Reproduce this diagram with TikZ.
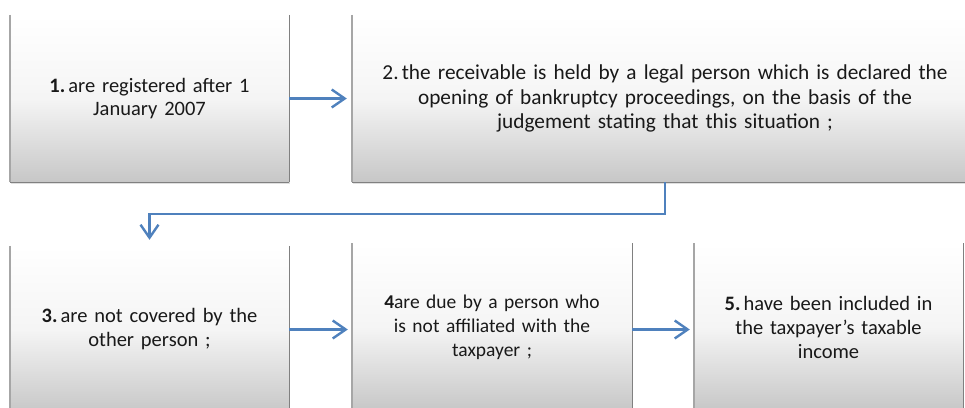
\documentclass[tikz,border=0pt]{standalone}
\usepackage{fontspec}
\setmainfont{Carlito}
\usetikzlibrary{arrows.meta,shadows}
\definecolor{arrowblue}{HTML}{4F81BD}
\tikzset{
  box/.style={rectangle, inner sep=0pt, align=center,
    top color=white, bottom color=black!22, middle color=black!4,
    text=black!90,
    drop shadow={opacity=0.25, shadow xshift=1pt, shadow yshift=-2pt}},
  boxedge/.style={draw=black!50, line width=1.4pt},
  flow/.style={draw=arrowblue, line width=2.4pt,
    -{Straight Barb[length=13pt,width=18pt,line width=2.4pt]}}
}
\begin{document}
\begin{tikzpicture}[x=1pt,y=-1pt]
\useasboundingbox (0,0) rectangle (965,407);
\clip (0,0) rectangle (965,407);
\fill[white] (0,0) rectangle (965,407);
\node[box, minimum width=279pt, minimum height=167pt, text width=279pt,
  font=\fontsize{20.5}{22.5}\selectfont] (b1) at (149.5,98.5)
  {\textbf{1.}\hspace{0.15em}are registered after 1\\ January 2007};
\node[box, minimum width=626pt, minimum height=167pt, text width=626pt,
  font=\fontsize{21.3}{24.5}\selectfont] (b2) at (665,98.5)
  {2.\hspace{0.15em}the receivable is held by a legal person which is declared the\\ opening of bankruptcy proceedings, on the basis of the\\ judgement stating that this situation ;};
\node[box, minimum width=279pt, minimum height=167pt, text width=279pt,
  font=\fontsize{20.5}{24}\selectfont] (b3) at (149.5,329.5)
  {\textbf{3.}\hspace{0.15em}are not covered by the\\ other person ;};
\node[box, minimum width=280pt, minimum height=167pt, text width=280pt,
  font=\fontsize{19.5}{24}\selectfont] (b4) at (492,327)
  {\textbf{4}are due by a person who\\ is not affiliated with the\\ taxpayer ;};
\node[box, minimum width=269pt, minimum height=167pt, text width=269pt,
  font=\fontsize{20.5}{24}\selectfont] (b5) at (828.5,327)
  {\textbf{5.}\hspace{0.15em}have been included in\\ the taxpayer's taxable\\ income};
\foreach \n in {b1,b2,b3,b4,b5}{
  \draw[boxedge, draw=black!35] (\n.north west) -- (\n.south west);
  \draw[boxedge] (\n.north east) -- (\n.south east);
  \draw[boxedge] (\n.south west) -- (\n.south east);
}
\draw[flow, shorten >=5pt] (b1.east) -- (b2.west);
\draw[flow, shorten >=4pt] (b3.east) -- (b3.east -| b4.west);
\draw[flow, shorten >=4pt] (b3.east -| b4.east) -- (b3.east -| b5.west);
\draw[flow, shorten >=6pt] (b2.south) -- ++(0,32) coordinate (k) -| (b3.north);
\end{tikzpicture}
\end{document}
